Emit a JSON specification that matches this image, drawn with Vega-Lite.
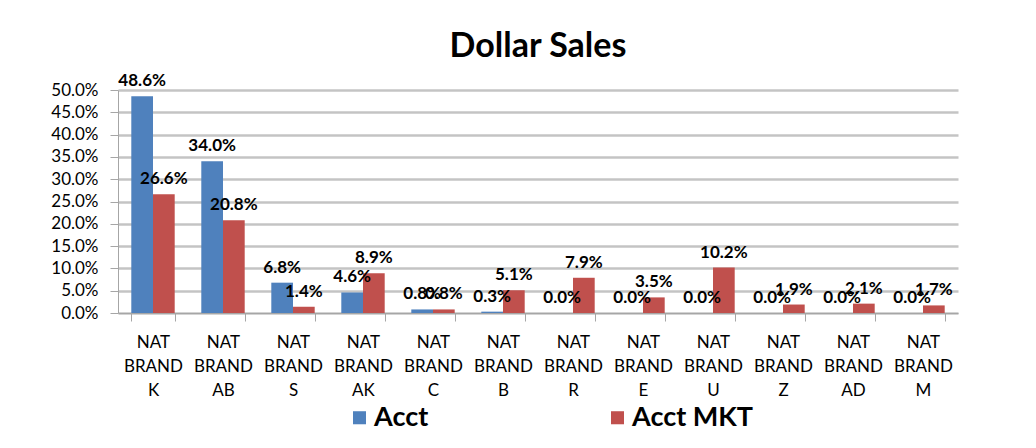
{
  "$schema": "https://vega.github.io/schema/vega-lite/v6.json",
  "autosize": {"type": "none"},
  "width": 840,
  "height": 223,
  "padding": {"left": 118, "top": 90, "right": 78, "bottom": 135},
  "background": "#ffffff",
  "title": {
    "text": "Dollar Sales",
    "font": "Lato",
    "fontSize": 34,
    "fontWeight": "bold",
    "color": "#000000",
    "anchor": "middle",
    "offset": 8
  },
  "data": {
    "values": [
      {"brand": "NAT BRAND K", "series": "Acct", "value": 0.486},
      {"brand": "NAT BRAND K", "series": "Acct MKT", "value": 0.266},
      {"brand": "NAT BRAND AB", "series": "Acct", "value": 0.340},
      {"brand": "NAT BRAND AB", "series": "Acct MKT", "value": 0.208},
      {"brand": "NAT BRAND S", "series": "Acct", "value": 0.068},
      {"brand": "NAT BRAND S", "series": "Acct MKT", "value": 0.014},
      {"brand": "NAT BRAND AK", "series": "Acct", "value": 0.046},
      {"brand": "NAT BRAND AK", "series": "Acct MKT", "value": 0.089},
      {"brand": "NAT BRAND C", "series": "Acct", "value": 0.008},
      {"brand": "NAT BRAND C", "series": "Acct MKT", "value": 0.008},
      {"brand": "NAT BRAND B", "series": "Acct", "value": 0.003},
      {"brand": "NAT BRAND B", "series": "Acct MKT", "value": 0.051},
      {"brand": "NAT BRAND R", "series": "Acct", "value": 0.0},
      {"brand": "NAT BRAND R", "series": "Acct MKT", "value": 0.079},
      {"brand": "NAT BRAND E", "series": "Acct", "value": 0.0},
      {"brand": "NAT BRAND E", "series": "Acct MKT", "value": 0.035},
      {"brand": "NAT BRAND U", "series": "Acct", "value": 0.0},
      {"brand": "NAT BRAND U", "series": "Acct MKT", "value": 0.102},
      {"brand": "NAT BRAND Z", "series": "Acct", "value": 0.0},
      {"brand": "NAT BRAND Z", "series": "Acct MKT", "value": 0.019},
      {"brand": "NAT BRAND AD", "series": "Acct", "value": 0.0},
      {"brand": "NAT BRAND AD", "series": "Acct MKT", "value": 0.021},
      {"brand": "NAT BRAND M", "series": "Acct", "value": 0.0},
      {"brand": "NAT BRAND M", "series": "Acct MKT", "value": 0.017}
    ]
  },
  "encoding": {
    "x": {
      "field": "brand",
      "type": "nominal",
      "sort": null,
      "scale": {"paddingInner": 0.38, "paddingOuter": 0.19},
      "axis": {
        "title": null,
        "labelAngle": 0,
        "labelExpr": "split(datum.label, ' ')",
        "labelLineHeight": 24,
        "labelFont": "Lato",
        "labelFontSize": 17,
        "labelColor": "#000000",
        "labelPadding": 13,
        "labelBaseline": "top",
        "domainColor": "#a6a6a6",
        "tickColor": "#a6a6a6",
        "tickBand": "extent",
        "tickSize": 8,
        "grid": false
      }
    },
    "xOffset": {"field": "series", "type": "nominal", "sort": ["Acct", "Acct MKT"]},
    "y": {
      "field": "value",
      "type": "quantitative",
      "scale": {"domain": [0, 0.5], "nice": false},
      "axis": {
        "title": null,
        "values": [0, 0.05, 0.1, 0.15, 0.2, 0.25, 0.3, 0.35, 0.4, 0.45, 0.5],
        "format": ".1%",
        "labelFont": "Lato",
        "labelFontSize": 17,
        "labelColor": "#000000",
        "labelPadding": 12,
        "domainColor": "#a6a6a6",
        "tickColor": "#a6a6a6",
        "tickSize": 8,
        "gridColor": "#c4c4c4",
        "gridWidth": 2.5
      }
    }
  },
  "layer": [
    {
      "mark": {"type": "bar", "stroke": null},
      "encoding": {
        "color": {
          "field": "series",
          "type": "nominal",
          "sort": ["Acct", "Acct MKT"],
          "scale": {"domain": ["Acct", "Acct MKT"], "range": ["#4f81bd", "#c0504d"]},
          "legend": {
            "title": null,
            "orient": "none",
            "direction": "horizontal",
            "legendX": 228,
            "legendY": 314,
            "symbolType": "square",
            "symbolSize": 170,
            "symbolStrokeWidth": 0,
            "labelFont": "Lato",
            "labelFontSize": 27,
            "labelFontWeight": "bold",
            "labelColor": "#000000",
            "labelOffset": 1,
            "columnPadding": 175
          }
        }
      }
    },
    {
      "mark": {"type": "text", "baseline": "bottom", "dy": -6, "font": "Lato", "fontSize": 17, "fontWeight": "bold", "color": "#000000"},
      "encoding": {
        "text": {"field": "value", "type": "quantitative", "format": ".1%"}
      }
    }
  ],
  "config": {
    "view": {"stroke": null}
  }
}
